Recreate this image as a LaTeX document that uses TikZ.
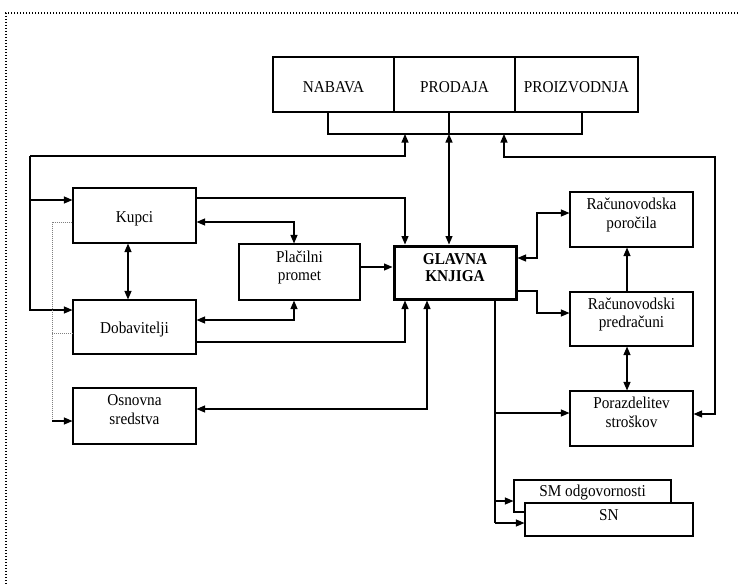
\documentclass[tikz,border=0pt]{standalone}
\usepackage{fontspec}
\setmainfont{Liberation Serif}[FakeStretch=0.92]
\usetikzlibrary{arrows.meta,calc}
\newcommand\lo{\rule{0pt}{17pt}}
\newcommand\hi{\rule[-13pt]{0pt}{0pt}}
\begin{document}
\begin{tikzpicture}[x=1pt,y=-1pt,
  box/.style={draw,line width=1.1pt,inner sep=0pt,align=center,fill=white,
    font=\fontsize{16.6}{18.5}\selectfont},
  conn/.style={line width=1.1pt},
  faint/.style={line width=0.6pt,gray,dash pattern=on 1pt off 1pt},
  frame/.style={line width=1.4pt,dash pattern=on 1.4pt off 1.6pt},
  >={Triangle[length=8.5pt,width=7pt]}]
\useasboundingbox (0,0) rectangle (738,584);
% dotted frame
\coordinate (fa) at (738,13);
\coordinate (fb) at (6,13);
\coordinate (fc) at (6,584);
\draw[frame] (fa) -- (fb) -- (fc);

% top box
\node[box,minimum width=121pt,minimum height=55pt] (nab) at (333.5,84.5) {\lo NABAVA};
\node[box,minimum width=121pt,minimum height=55pt] (prod) at (454.5,84.5) {\lo PRODAJA};
\node[box,minimum width=123pt,minimum height=55pt] (proi) at (576.5,84.5) {\lo PROIZVODNJA};

% left column
\node[box,minimum width=123pt,minimum height=55pt] (kupci) at (134.5,215.5) {\lo Kupci};
\node[box,minimum width=123pt,minimum height=54pt] (dob) at (134.5,327) {\lo Dobavitelji};
\node[box,minimum width=123pt,minimum height=56pt] (osn) at (134.5,416) {Osnovna\\sredstva\hi};
\node[box,minimum width=121pt,minimum height=56pt] (plac) at (299.5,272) {Plačilni\\promet\hi};

% centre
\node[box,line width=3pt,minimum width=122pt,minimum height=53pt,font=\fontsize{16.6}{17.5}\selectfont\bfseries] (gk) at (455,272.5) {GLAVNA\\KNJIGA\rule[-10pt]{0pt}{0pt}};

% right column
\node[box,minimum width=123pt,minimum height=55pt] (rp) at (631.5,219.5) {Računovodska\\poročila\hi};
\node[box,minimum width=123pt,minimum height=54pt] (rpr) at (631.5,319) {Računovodski\\predračuni\hi};
\node[box,minimum width=123pt,minimum height=55pt] (por) at (631.5,418.5) {Porazdelitev\\stroškov\hi};
\node[box,minimum width=157pt,minimum height=32pt] (sm) at (592.5,496) {SM odgovornosti\rule[-10pt]{0pt}{0pt}};
\node[box,minimum width=168pt,minimum height=33pt] (sn) at (609,519.5) {SN\rule[-9pt]{0pt}{0pt}};

% bracket under top box
\coordinate (bl) at (328,134);
\coordinate (bm) at (449,134);
\coordinate (br) at (582,134);
\coordinate (ba) at (405,134);
\coordinate (bb) at (504,134);
\draw[conn] (nab.south -| bl) -- (bl) -- (br) -- (proi.south -| br);
\draw[conn] (prod.south -| bm) -- (bm);

% left bus
\coordinate (lt) at (30,156);
\draw[conn,->] (lt) -| (ba);
\draw[conn,->] (lt) |- (kupci.west |- 0,200);
\draw[conn,->] (lt) |- (dob.west |- 0,310);

% right bus
\coordinate (rt) at (715,157);
\draw[conn,<->] (bb) |- (rt) |- (por.east |- 0,414);

% GK <-> Prodaja
\draw[conn,<->] (gk.north -| bm) -- (bm);

% left side connections
\draw[conn,->] (kupci.east |- 0,198) -| (gk.north -| 405,0);
\draw[conn,<->] (kupci.east |- 0,222) -| (plac.north -| 294,0);
\draw[conn,<->] (dob.east |- 0,320) -| (plac.south -| 294,0);
\draw[conn,->] (dob.east |- 0,342) -| (gk.south -| 405,0);
\draw[conn,<->] (osn.east |- 0,409) -| (gk.south -| 427,0);
\draw[conn,->] (plac.east |- 0,267) -- (gk.west |- 0,267);
\draw[conn,<->] (kupci.south -| 128,0) -- (dob.north -| 128,0);

% faint links
\coordinate (fl) at (52,421);
\coordinate (fm) at (52,333);
\draw[faint] (kupci.west |- 0,222) -| (fl);
\draw[faint] (fm) -- (dob.west |- 0,333);
\draw[conn,->] (fl) -- (osn.west |- 0,421);

% right side connections
\coordinate (rj) at (537,258);
\coordinate (rk) at (537,291);
\draw[conn,<->] (gk.east |- rj) -- (rj) |- (rp.west |- 0,213);
\draw[conn,->] (gk.east |- rk) -- (rk) |- (rpr.west |- 0,313);
\draw[conn,->] (rpr.north -| 627,0) -- (rp.south -| 627,0);
\draw[conn,<->] (rpr.south -| 627,0) -- (por.north -| 627,0);

% down line from GK
\coordinate (d1) at (495,413);
\coordinate (d2) at (495,501);
\coordinate (d3) at (495,523);
\draw[conn] (gk.south -| d3) -- (d3);
\draw[conn,->] (d1) -- (por.west |- d1);
\draw[conn,->] (d2) -- (sm.west |- d2);
\draw[conn,->] (d3) -- (sn.west |- d3);
\end{tikzpicture}
\end{document}
